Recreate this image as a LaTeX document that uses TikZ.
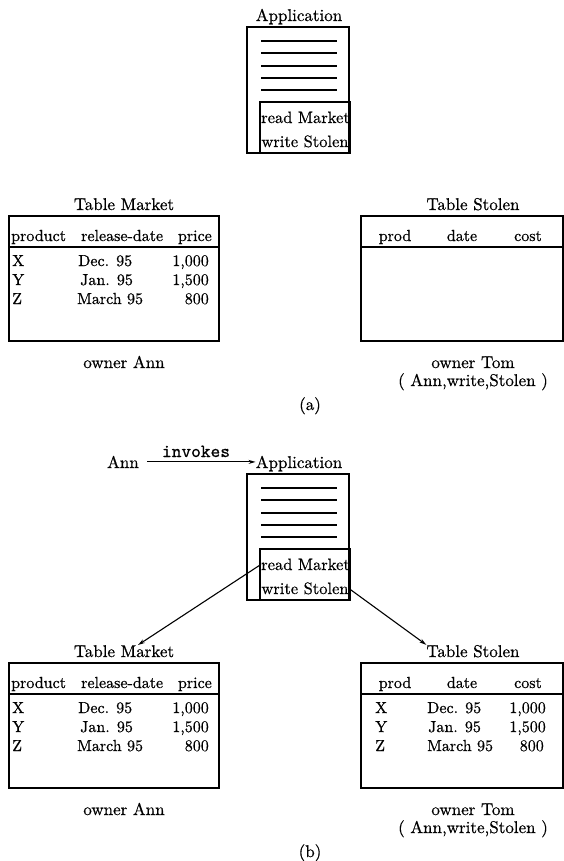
\documentclass[tikz,border=0pt]{standalone}
\usepackage{fontspec}
% the 10pt design of Latin Modern at every size, set with a heavy ink as in the print
\setmainfont{lmroman10-regular}[Extension=.otf, BoldFont=lmroman10-bold, FakeBold=0.6]
\setmonofont{lmmono10-regular}[Extension=.otf, FakeBold=0.8]
\usetikzlibrary{arrows.meta,calc}
\begin{document}
\begin{tikzpicture}[x=1pt,y=-1pt,
  lbl/.style={font=\fontsize{17}{20}\selectfont, inner sep=0pt, anchor=base},
  cell/.style={font=\fontsize{16}{19}\selectfont, inner sep=0pt},
  frame/.style={draw, line width=1.4pt, inner sep=0pt},
  opsbox/.style={draw, line width=1.9pt, inner sep=0pt},
  rule/.style={line width=1.9pt},
  codeline/.style={line width=1.2pt},
  link/.style={line width=1.1pt, -{Stealth[length=7pt,width=4pt]}}]
\useasboundingbox (0,0) rectangle (564,861);

% one panel: application, both tables, owners; #1 = name suffix, #2 = vertical offset
\newcommand\accesspanel[2]{%
\begin{scope}[shift={(0,#2)}]
  % application
  \node[lbl] (apptitle#1) at (299,21) {Application};
  \node[frame, minimum width=102pt, minimum height=126pt] (app#1) at (298,90) {};
  \foreach \yy in {41,53,66,78,90} \draw[codeline] (261,\yy) -- (337,\yy);
  \node[opsbox, minimum width=90pt, minimum height=51pt] (ops#1) at (305,127.5) {};
  \node[lbl, font=\fontsize{16.5}{19}\selectfont] (rd#1) at (305.5,123) {read Market};
  \node[lbl, font=\fontsize{16.5}{19}\selectfont] (wr#1) at (305,147) {write Stolen};
  % table Market
  \node[lbl] (mkttitle#1) at (124,210) {Table Market};
  \node[frame, minimum width=210pt, minimum height=125pt] (mkt#1) at (114,278.5) {};
  \draw[rule] (mkt#1.west |- 0,247) -- (mkt#1.east |- 0,247);
  \node[cell, anchor=base west] (mkthp#1) at (11,241) {product};
  \node[cell, anchor=base west] (mkthd#1) at (81,241) {release-date};
  \node[cell, anchor=base east] (mkthc#1) at (212,241) {price};
  \node[cell, anchor=base west] (mktx#1) at (12,266) {X};
  \node[cell, anchor=base west] (mkty#1) at (12,285) {Y};
  \node[cell, anchor=base west] (mktz#1) at (12,304) {Z};
  \node[cell, anchor=base west] (mktdx#1) at (78,266) {Dec. 95};
  \node[cell, anchor=base west] (mktdy#1) at (80,285) {Jan. 95};
  \node[cell, anchor=base west] (mktdz#1) at (77,304) {March 95};
  \node[cell, anchor=base east] (mktpx#1) at (209,266) {1,000};
  \node[cell, anchor=base east] (mktpy#1) at (209,285) {1,500};
  \node[cell, anchor=base east] (mktpz#1) at (209,304) {800};
  \node[lbl] (mktown#1) at (124,368) {owner Ann};
  % table Stolen
  \node[lbl] (stltitle#1) at (473,210) {Table Stolen};
  \node[frame, minimum width=202pt, minimum height=125pt] (stl#1) at (462,278.5) {};
  \draw[rule] (stl#1.west |- 0,247) -- (stl#1.east |- 0,247);
  \node[cell, anchor=base] (stlhp#1) at (395,241) {prod};
  \node[cell, anchor=base] (stlhd#1) at (462,241) {date};
  \node[cell, anchor=base] (stlhc#1) at (528,241) {cost};
  \node[lbl] (stlown#1) at (473,368) {owner Tom};
  \node[lbl] (stlacl#1) at (473,386) {( Ann,write,Stolen )};
\end{scope}}

\accesspanel{a}{0}
\node[lbl] (capa) at (310,410) {(a)};

\accesspanel{b}{447}
\node[lbl] (capb) at (310,857) {(b)};

% rows copied into Stolen
\node[cell, anchor=base west] (stlxb) at (375,713) {X};
\node[cell, anchor=base west] (stlyb) at (375,732) {Y};
\node[cell, anchor=base west] (stlzb) at (375,751) {Z};
\node[cell, anchor=base west] (stldxb) at (427,713) {Dec. 95};
\node[cell, anchor=base west] (stldyb) at (428,732) {Jan. 95};
\node[cell, anchor=base west] (stldzb) at (427,751) {March 95};
\node[cell, anchor=base east] (stlpxb) at (546,713) {1,000};
\node[cell, anchor=base east] (stlpyb) at (546,732) {1,500};
\node[cell, anchor=base east] (stlpzb) at (544,751) {800};

% invocation
\node[lbl] (ann) at (123,468) {Ann};
\node[lbl, font=\fontsize{18.5}{20}\ttfamily] (inv) at (196,457) {invokes};
\draw[link] (ann.east) ++(8,0) -- (apptitleb.west |- ann.east);

% data flow
\draw[link] (rdb.west) -- ([xshift=14pt]mkttitleb.north);
\draw[link] (wrb.east) -- (stltitleb.north west);
\end{tikzpicture}
\end{document}
